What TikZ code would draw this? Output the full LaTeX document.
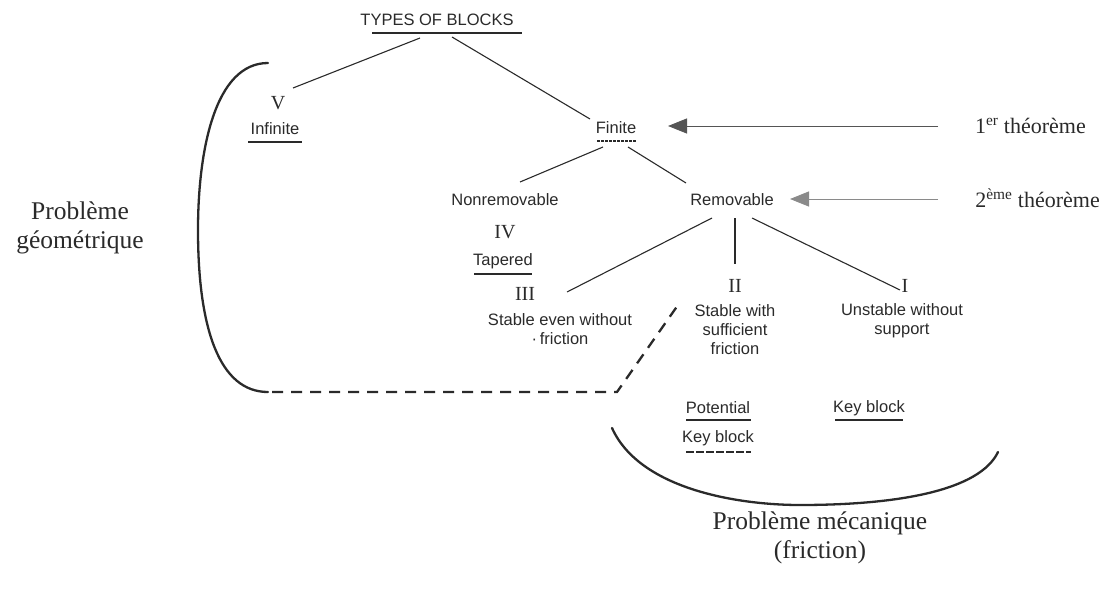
\documentclass[tikz,border=0pt]{standalone}
\usepackage{fontspec}
\setmainfont{Liberation Serif}
\newfontfamily\lsans{Liberation Sans}
\usetikzlibrary{arrows.meta}
\definecolor{ink}{HTML}{2A2A2A}
\tikzset{
  lbl/.style={font=\lsans\fontsize{16.5}{20}\selectfont, inner sep=0pt, align=center, text=ink},
  num/.style={font=\fontsize{20}{22}\selectfont, inner sep=0pt, text=ink},
  big/.style={font=\fontsize{25.5}{29}\selectfont, inner sep=0pt, align=center, text=ink},
  thm/.style={font=\fontsize{22}{24}\selectfont, inner sep=0pt, anchor=base east, text=ink},
  edge/.style={draw=ink, line width=1.1pt},
  uline/.style={draw=ink, line width=1.3pt},
  brace/.style={draw=ink, line width=2.3pt, line cap=round},
  dsh/.style={draw=ink, line width=2.3pt, dash pattern=on 11pt off 8pt},
  arr/.style={draw=ink!80, line width=0.9pt, -{Triangle[length=19pt,width=15pt]}},
}
\begin{document}
\begin{tikzpicture}[x=1pt,y=-1pt]
\useasboundingbox (0,0) rectangle (1103,589);
% nodes
\node[lbl] (types) at (437,20) {TYPES OF BLOCKS};
\node[num] (v) at (278,103) {V};
\node[lbl] (inf) at (275,129) {Infinite};
\node[lbl] (fin) at (616,128) {Finite};
\node[lbl] (nonrem) at (505,200) {Nonremovable};
\node[num] (iv) at (505,232) {IV};
\node[lbl] (tap) at (503,261) {Tapered};
\node[lbl] (rem) at (732,200) {Removable};
\node[num] (iii) at (525,294) {III};
\node[lbl] (iiit) at (560,329) {Stable even without\\[-1pt]\textperiodcentered\,friction};
\node[num] (ii) at (735,286) {II};
\node[lbl] (iit) at (735,330) {Stable with\\[-1pt]sufficient\\[-1pt]friction};
\node[num] (i) at (905,286) {I};
\node[lbl] (it) at (902,321) {Unstable without\\[-1pt]support};
\node[lbl] (pot) at (718,408) {Potential};
\node[lbl] (kb1) at (718,438) {Key block};
\node[lbl] (kb2) at (869,408) {Key block};
\node[big] (geo) at (80,228) {Problème\\géométrique};
\node[big] (mec) at (820,538) {Problème mécanique\\(friction)};
\node[thm] (t1) at (1086,133) {1\textsuperscript{er} théorème};
\node[thm] (t2) at (1100,207) {2\textsuperscript{ème} théorème};
% underlines
\draw[uline] (372,33) -- (522,33);
\draw[uline] (248,142) -- (302,142);
\draw[uline, dash pattern=on 3pt off 1pt] (597,141) -- (636,141);
\draw[uline] (474,274) -- (532,274);
\draw[uline] (686,420) -- (751,420);
\draw[uline, dash pattern=on 8pt off 2pt] (686,452) -- (751,452);
\draw[uline] (835,420) -- (903,420);
% tree edges
\draw[edge] (420,38) -- (293,88);
\draw[edge] (452,37) -- (590,119);
\draw[edge] (603,147) -- (520,182);
\draw[edge] (628,147) -- (686,183);
\draw[edge] (712,218) -- (567,292);
\draw[edge] (735,218) -- (735,264);
\draw[edge] (752,218) -- (900,290);
% theorem arrows
\draw[arr] (938,126) -- (668,126);
\draw[arr, draw=ink!55] (938,199) -- (790,199);
% left bracket and dashed link
\draw[brace] (268,63) .. controls (215,63) and (198,150) .. (198,230)
  .. controls (198,330) and (220,392) .. (268,392);
\draw[dsh] (272,392) -- (617,392) -- (678,305);
% bottom bracket
\draw[brace] (612,428) .. controls (640,490) and (740,505) .. (800,505)
  .. controls (900,505) and (980,490) .. (998,452);
\end{tikzpicture}
\end{document}
